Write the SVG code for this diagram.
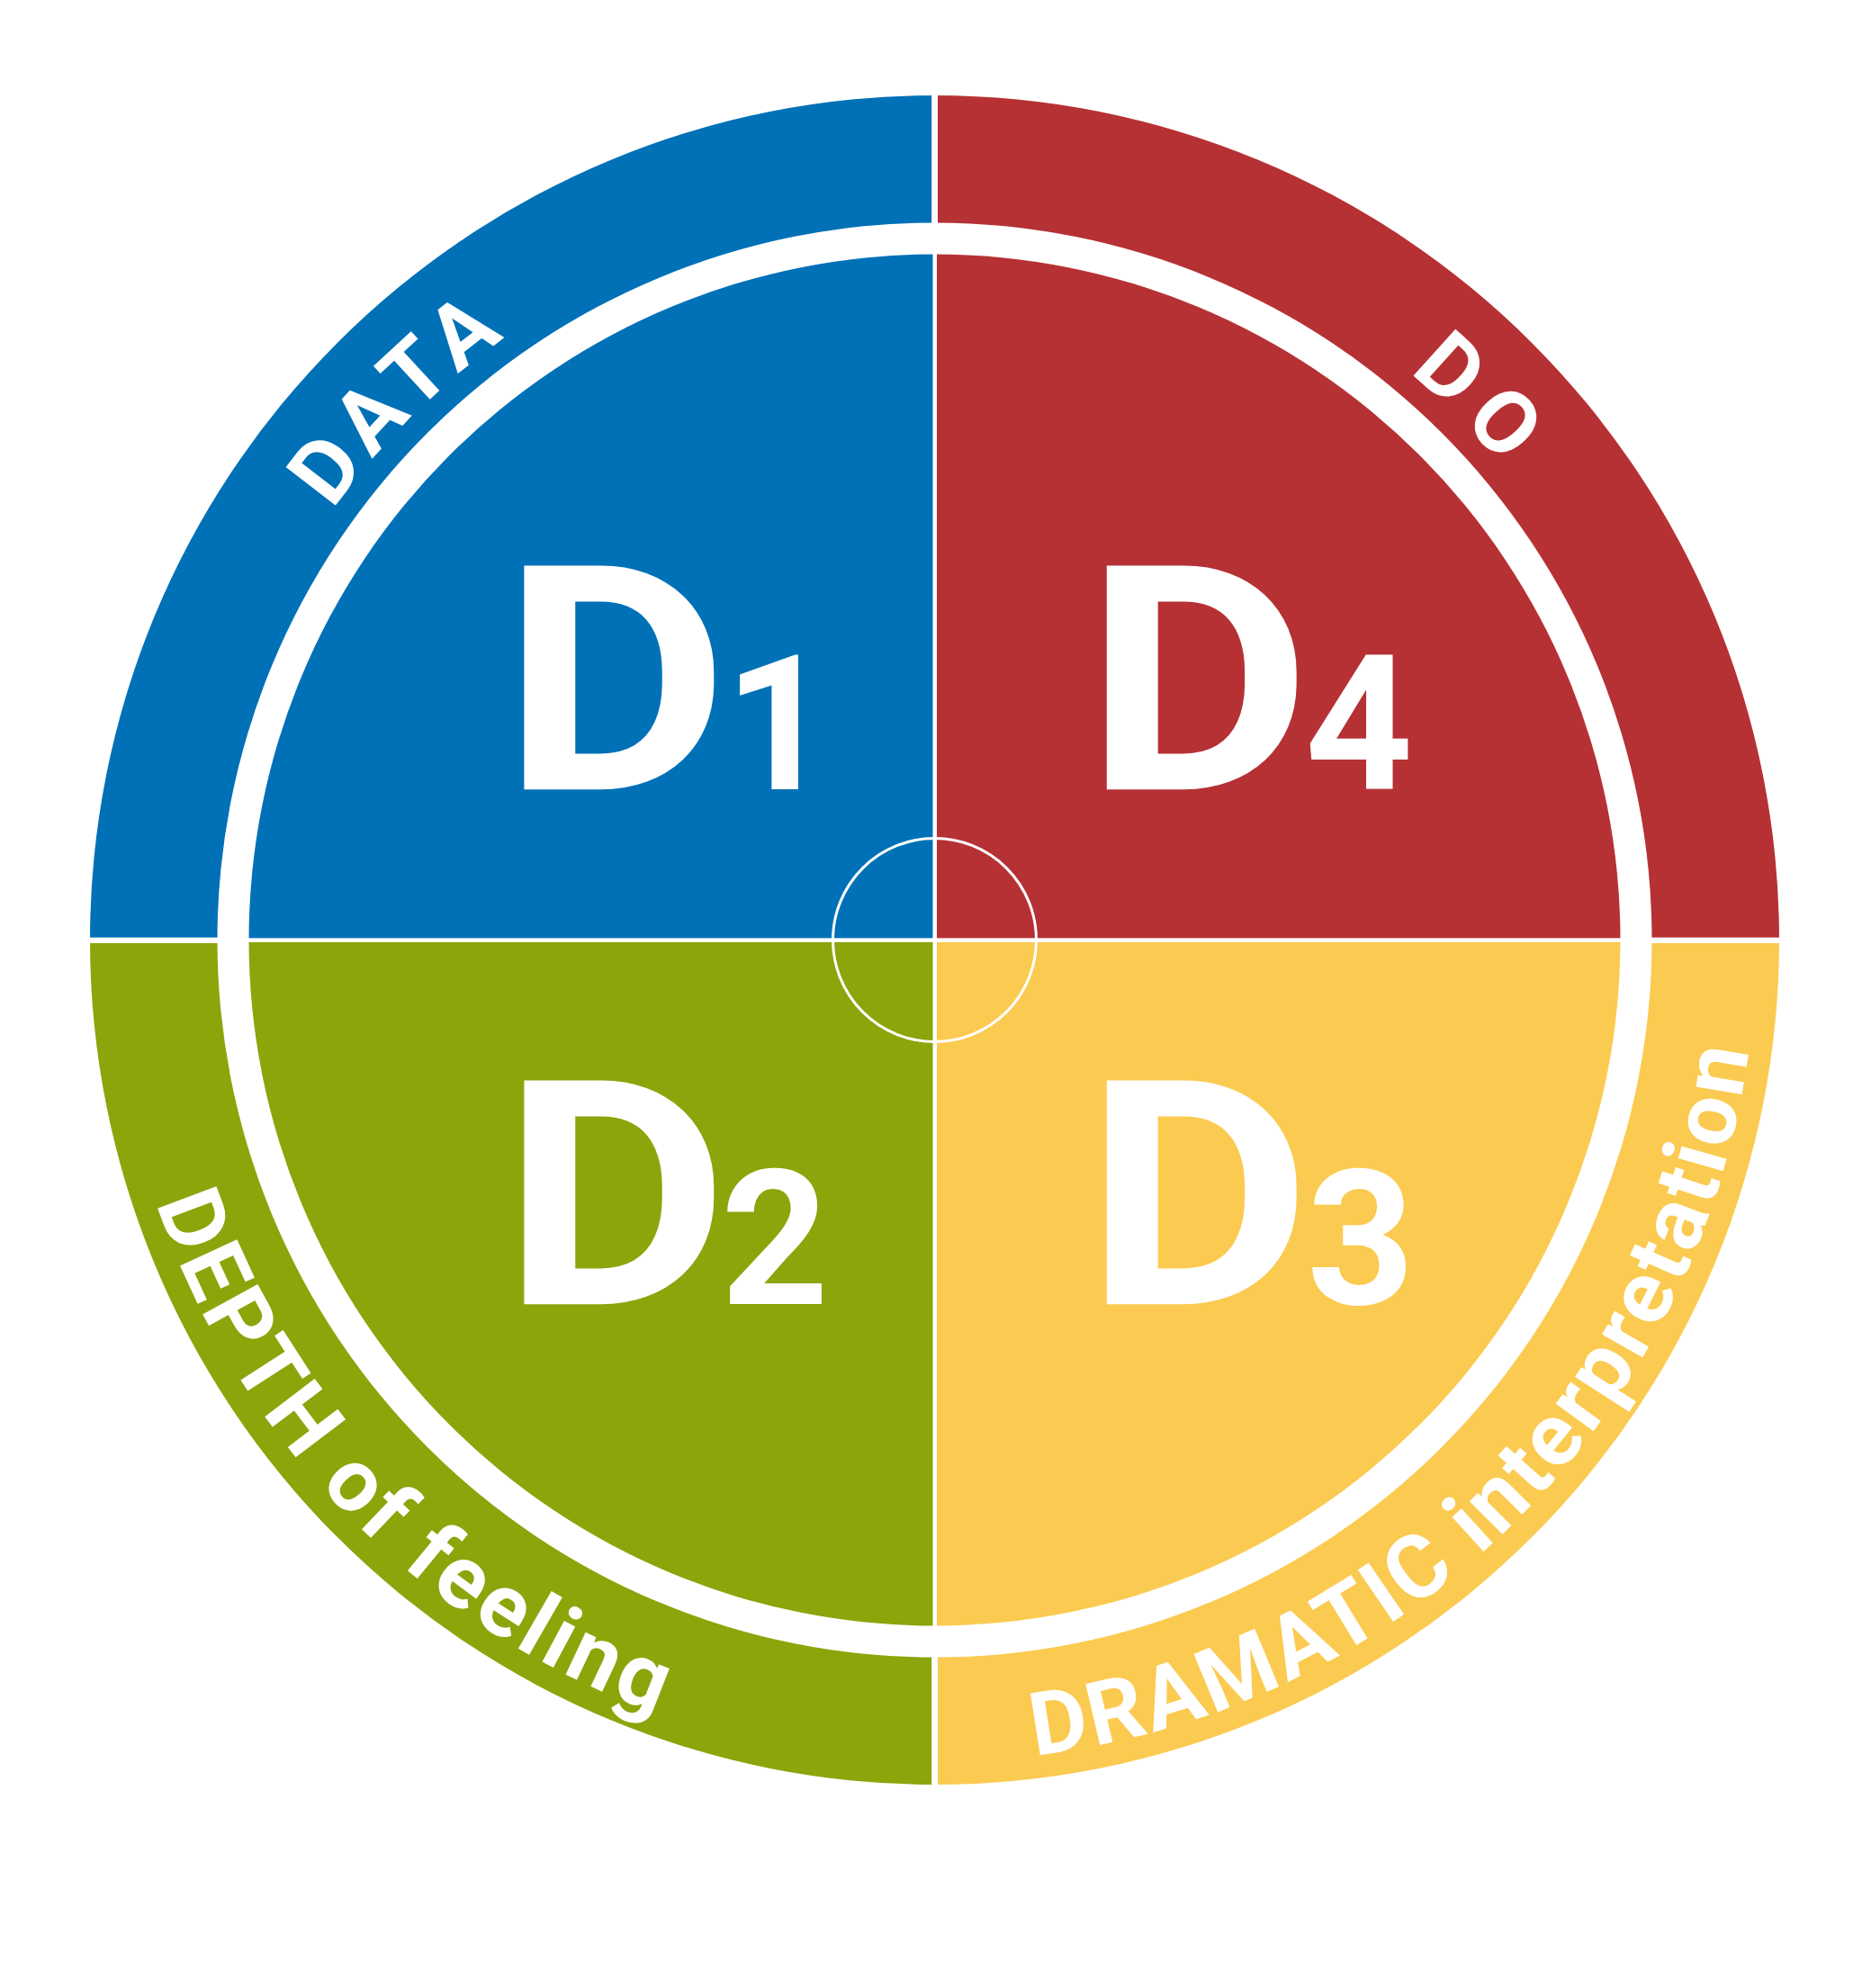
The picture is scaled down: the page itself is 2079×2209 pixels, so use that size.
<svg xmlns="http://www.w3.org/2000/svg" xmlns:xlink="http://www.w3.org/1999/xlink" width="2079" height="2209" viewBox="0 0 2079 2209">
<style>
text{fill:#fff;font-family:Roboto,"Liberation Sans",Arial,sans-serif;font-weight:700}
.big{font-size:350px}
.sub{font-size:209px;text-anchor:middle}
.arc{font-size:98px}
.div{fill:#fff}
.blue{fill:#0071B7}.red{fill:#B63134}.green{fill:#8BA50B}.yellow{fill:#FBCA50}
</style>
<defs>
<path id="pData" d="M244.51,831.75 A822,822 0 0 1 825.75,250.51"/>
<path id="pDo" d="M1251.25,250.51 A822,822 0 0 1 1832.49,831.75"/>
<path id="pDepth" d="M173.55,1336.78 A913,913 0 0 0 1038.5,1957.5"/>
<path id="pDrama" d="M1149.62,1950.72 A913,913 0 0 0 1948.02,964.93"/>
</defs>
<rect width="2079" height="2209" fill="#fff"/>
<g id="d1">
<path class="blue" d="M100,1044.5 A938.5,938.5 0 0 1 1038.5,106 L1038.5,247.5 A797,797 0 0 0 241.5,1044.5 Z"/>
<path class="blue" d="M1038.5,1044.5 L276.5,1044.5 A762,762 0 0 1 1038.5,282.5 Z"/>
<text class="big" transform="translate(557.9,877.3) scale(1.107,1)" x="0" y="0">D</text>
<text class="sub" x="865" y="877.3">1</text>
<text class="arc"><textPath xlink:href="#pData" startOffset="50%" text-anchor="middle" textLength="272" lengthAdjust="spacing">DATA</textPath></text>
</g>
<g id="d4">
<path class="red" d="M1038.5,106 A938.5,938.5 0 0 1 1977,1044.5 L1835.5,1044.5 A797,797 0 0 0 1038.5,247.5 Z"/>
<path class="red" d="M1038.5,1044.5 L1038.5,282.5 A762,762 0 0 1 1800.5,1044.5 Z"/>
<text class="big" transform="translate(1205.3,877.3) scale(1.107,1)" x="0" y="0">D</text>
<text class="sub" x="1510" y="877.3">4</text>
<text class="arc"><textPath xlink:href="#pDo" startOffset="50%" text-anchor="middle" textLength="147" lengthAdjust="spacing">DO</textPath></text>
</g>
<g id="d3">
<path class="yellow" d="M1977,1044.5 A938.5,938.5 0 0 1 1038.5,1983 L1038.5,1841.5 A797,797 0 0 0 1835.5,1044.5 Z"/>
<path class="yellow" d="M1038.5,1044.5 L1800.5,1044.5 A762,762 0 0 1 1038.5,1806.5 Z"/>
<text class="big" transform="translate(1205.3,1449.3) scale(1.107,1)" x="0" y="0">D</text>
<text class="sub" x="1512" y="1449.3">3</text>
<text class="arc"><textPath xlink:href="#pDrama" startOffset="0" textLength="1200" lengthAdjust="spacing">DRAMATIC interpretation</textPath></text>
</g>
<g id="d2">
<path class="green" d="M1038.5,1983 A938.5,938.5 0 0 1 100,1044.5 L241.5,1044.5 A797,797 0 0 0 1038.5,1841.5 Z"/>
<path class="green" d="M1038.5,1044.5 L1038.5,1806.5 A762,762 0 0 1 276.5,1044.5 Z"/>
<text class="big" transform="translate(557.9,1449.3) scale(1.107,1)" x="0" y="0">D</text>
<text class="sub" x="861" y="1449.3">2</text>
<text class="arc"><textPath xlink:href="#pDepth" startOffset="0" textLength="822" lengthAdjust="spacing">DEPTH of feeling</textPath></text>
</g>
<g id="dividers">
<rect class="div" x="1035.2" y="100" width="6.8" height="150"/>
<rect class="div" x="1035.2" y="1838" width="6.8" height="150"/>
<rect class="div" x="1036.5" y="280" width="4.5" height="1529"/>
<rect class="div" x="95" y="1041.7" width="150" height="6.3"/>
<rect class="div" x="1832" y="1041.7" width="150" height="6.3"/>
<rect class="div" x="274" y="1042.4" width="1529" height="4.5"/>
<circle cx="1038.5" cy="1044.5" r="113" fill="none" stroke="#fff" stroke-width="3"/>
</g>
</svg>
